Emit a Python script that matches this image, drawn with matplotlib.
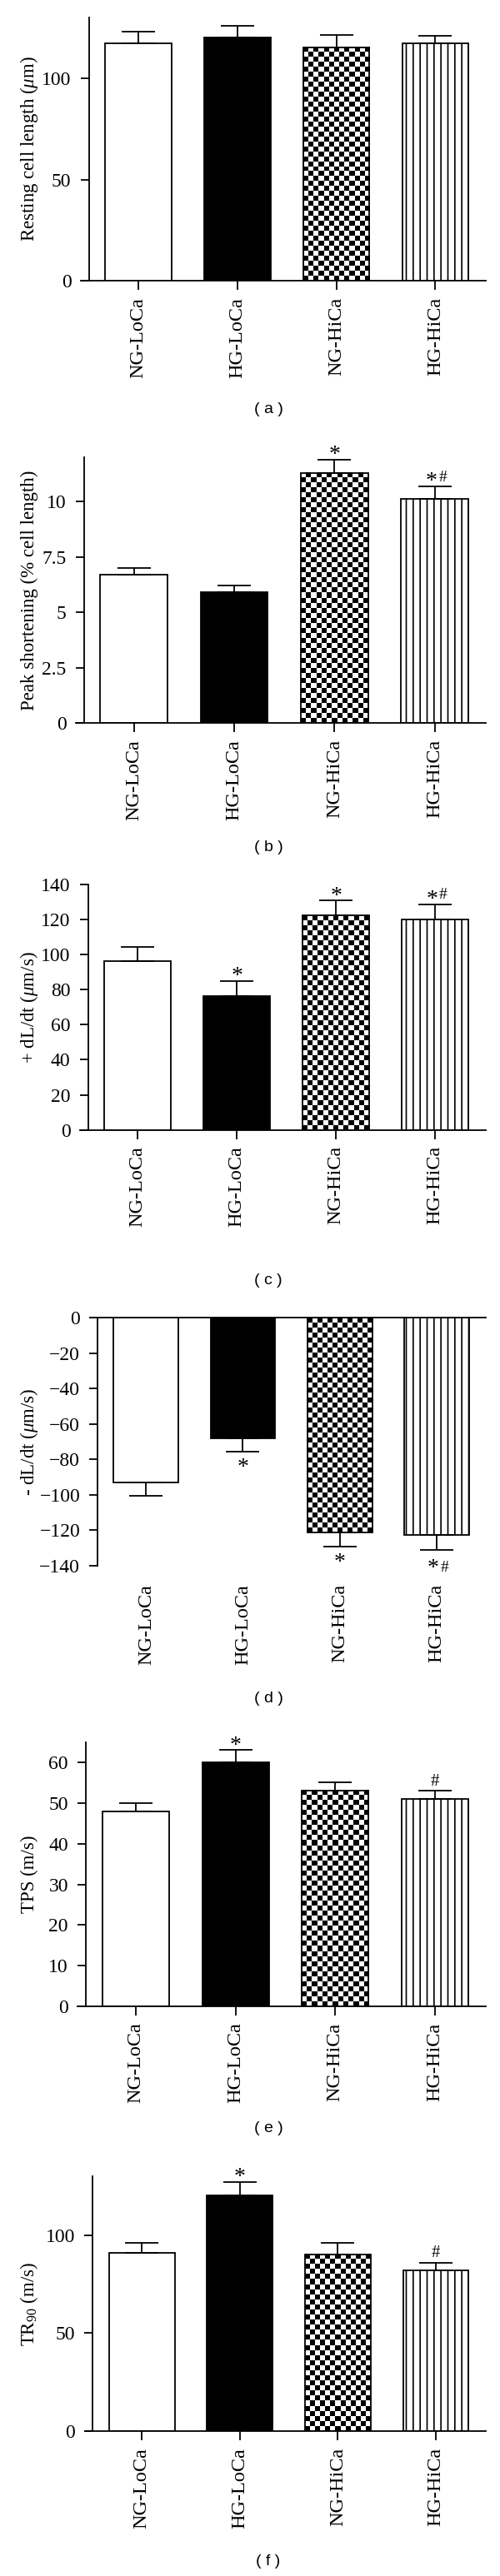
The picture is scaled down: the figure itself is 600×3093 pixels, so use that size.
import numpy as np
import matplotlib
matplotlib.use("Agg")
import matplotlib.pyplot as plt
import matplotlib.transforms as mtransforms

plt.rcParams['font.family'] = ['Liberation Serif', 'DejaVu Serif']
plt.rcParams['mathtext.fontset'] = 'custom'
plt.rcParams['mathtext.rm'] = 'Liberation Serif'
plt.rcParams['mathtext.it'] = 'Liberation Serif:italic'
plt.rcParams['mathtext.bf'] = 'Liberation Serif:bold'
plt.rcParams['hatch.linewidth'] = 1.2

# ---- data -------------------------------------------------------------
groups = ['NG-LoCa', 'HG-LoCa', 'NG-HiCa', 'HG-HiCa']

resting_mean = [117.1, 119.9, 115.2, 117.1]
resting_err = [5.8, 5.9, 6.2, 3.7]

shortening_mean = [6.70, 5.92, 11.30, 10.11]
shortening_err = [0.30, 0.28, 0.59, 0.58]

plus_dldt_mean = [96.2, 76.3, 122.3, 120.1]
plus_dldt_err = [8.1, 8.7, 8.4, 8.5]

minus_dldt_mean = [-93.0, -67.9, -121.2, -122.6]
minus_dldt_err = [7.5, 7.5, 7.8, 8.5]

tps_mean = [48.0, 60.0, 53.1, 51.1]
tps_err = [2.0, 3.0, 2.0, 1.9]

tr90_mean = [91.1, 120.3, 90.2, 82.2]
tr90_err = [4.9, 6.8, 5.8, 3.8]

resting_marks = ['', '', '', '']
shortening_marks = ['', '', '*', '*#']
plus_dldt_marks = ['', '*', '*', '*#']
minus_dldt_marks = ['', '*', '*', '*#']
tps_marks = ['', '*', '', '#']
tr90_marks = ['', '*', '', '#']

ylabels = ['Resting cell length ($\\mu$m)',
           'Peak shortening (% cell length)',
           '+ dL/dt ($\\mu$m/s)',
           '- dL/dt ($\\mu$m/s)',
           'TPS (m/s)',
           'TR$_{90}$ (m/s)']
yticks = [[0, 50, 100],
          [0, 2.5, 5, 7.5, 10],
          [0, 20, 40, 60, 80, 100, 120, 140],
          [0, -20, -40, -60, -80, -100, -120, -140],
          [0, 10, 20, 30, 40, 50, 60],
          [0, 50, 100]]
ylims = [(0, 130), (0, 12), (0, 140), (-140, 0), (0, 65), (0, 130)]
panel_names = ['( a )', '( b )', '( c )', '( d )', '( e )', '( f )']

panels = [
    (resting_mean, resting_err, resting_marks),
    (shortening_mean, shortening_err, shortening_marks),
    (plus_dldt_mean, plus_dldt_err, plus_dldt_marks),
    (minus_dldt_mean, minus_dldt_err, minus_dldt_marks),
    (tps_mean, tps_err, tps_marks),
    (tr90_mean, tr90_err, tr90_marks),
]

# ---- layout (pixels in a 600 x 3093 canvas) ---------------------------
W, H = 600, 3093
layout = [
    dict(left=97, right=583, top=20.7, bottom=337.3, label_y=491),
    dict(left=91, right=583, top=549, bottom=868.3, label_y=1018),
    dict(left=96, right=583, top=1061.7, bottom=1356.7, label_y=1537),
    dict(left=108, right=583, top=1582.3, bottom=1880, label_y=2040),
    dict(left=93.5, right=583, top=2091.7, bottom=2409, label_y=2556),
    dict(left=102, right=583, top=2613, bottom=2919.3, label_y=3075),
]

LW = 1.3
BAR_W = 0.67
XLIM = (-0.58, 3.51)
face = ['white', 'black', 'none', 'white']
hatches = [None, None, None, '||']


def checker_fill(ax, bar, cell_px=6.0):
    """Fill a bar with a black/white checkerboard image."""
    ext = bar.get_window_extent()
    nx = max(1, int(round(ext.width / cell_px)))
    ny = max(1, int(round(ext.height / cell_px)))
    grid = np.add.outer(np.arange(ny), np.arange(nx)) % 2
    x0, y0 = bar.get_x(), bar.get_y()
    x1, y1 = x0 + bar.get_width(), y0 + bar.get_height()
    ax.imshow(grid, cmap='gray', vmin=0, vmax=1, extent=[x0, x1, min(y0, y1), max(y0, y1)],
              origin='lower', interpolation='nearest', aspect='auto', zorder=1.5)


fig = plt.figure(figsize=(W / 100, H / 100), dpi=100)
x = np.arange(len(groups))

for i, ((means, errs, marks), lay) in enumerate(zip(panels, layout)):
    rect = [lay['left'] / W, 1 - lay['bottom'] / H,
            (lay['right'] - lay['left']) / W, (lay['bottom'] - lay['top']) / H]
    ax = fig.add_axes(rect)
    ax.set_xlim(*XLIM)
    ax.set_ylim(*ylims[i])
    negative = ylims[i][1] <= 0

    bars = ax.bar(x, means, BAR_W, color=face, edgecolor='black', linewidth=LW, zorder=2)
    for b, h in zip(bars, hatches):
        if h:
            b.set_hatch(h)
    checker_fill(ax, bars[2])

    if negative:
        yerr = [errs, [0] * len(errs)]
    else:
        yerr = [[0] * len(errs), errs]
    ax.errorbar(x, means, yerr=yerr, fmt='none', ecolor='black', elinewidth=LW,
                capsize=14.4, capthick=LW, zorder=3)

    # significance marks
    for j, m in enumerate(marks):
        if not m:
            continue
        edge = means[j] - errs[j] if negative else means[j] + errs[j]
        if m == '*':
            dy = -19 if negative else -1
            ax.annotate('*', (x[j], edge), xytext=(0, dy), textcoords='offset points',
                        ha='center', va='baseline', fontsize=20)
        elif m == '#':
            ax.annotate('#', (x[j], edge), xytext=(0, 4.5), textcoords='offset points',
                        ha='center', va='baseline', fontsize=15)
        else:
            dy_s = -21 if negative else -1
            dy_h = -18.5 if negative else 4.5
            ax.annotate('*', (x[j], edge), xytext=(-3, dy_s), textcoords='offset points',
                        ha='center', va='baseline', fontsize=20)
            ax.annotate('#', (x[j], edge), xytext=(7, dy_h), textcoords='offset points',
                        ha='center', va='baseline', fontsize=14)

    ax.set_xlim(*XLIM)
    ax.set_ylim(*ylims[i])

    # GraphPad-like axes
    ax.spines['right'].set_visible(False)
    ax.spines['left'].set_position(('data', -0.5))
    ax.spines['left'].set_linewidth(LW)
    if negative:
        ax.spines['bottom'].set_visible(False)
        ax.spines['top'].set_linewidth(LW)
        ax.tick_params(axis='x', length=0, pad=16)
    else:
        ax.spines['top'].set_visible(False)
        ax.spines['bottom'].set_linewidth(LW)
        ax.tick_params(axis='x', length=8, width=LW, pad=6)
    ax.set_xticks(x)
    ax.set_xticklabels(groups, rotation=90, fontsize=17.5)

    ax.set_yticks(yticks[i])
    ax.set_yticklabels([('%g' % t).replace('-', '\u2212') for t in yticks[i]])
    ax.tick_params(axis='y', length=7.2, width=LW, pad=8, labelsize=17)

    ax.set_ylabel(ylabels[i], fontsize=16.5)
    trans = mtransforms.blended_transform_factory(fig.transFigure, ax.transAxes)
    ax.yaxis.set_label_coords(35 / W, 0.5, transform=trans)
    ax.yaxis.label.set_verticalalignment('center')

    fig.text(322 / W, 1 - lay['label_y'] / H, panel_names[i], family='Liberation Sans',
             fontsize=14, ha='center', va='center')

fig.savefig('out.png', dpi=100)
